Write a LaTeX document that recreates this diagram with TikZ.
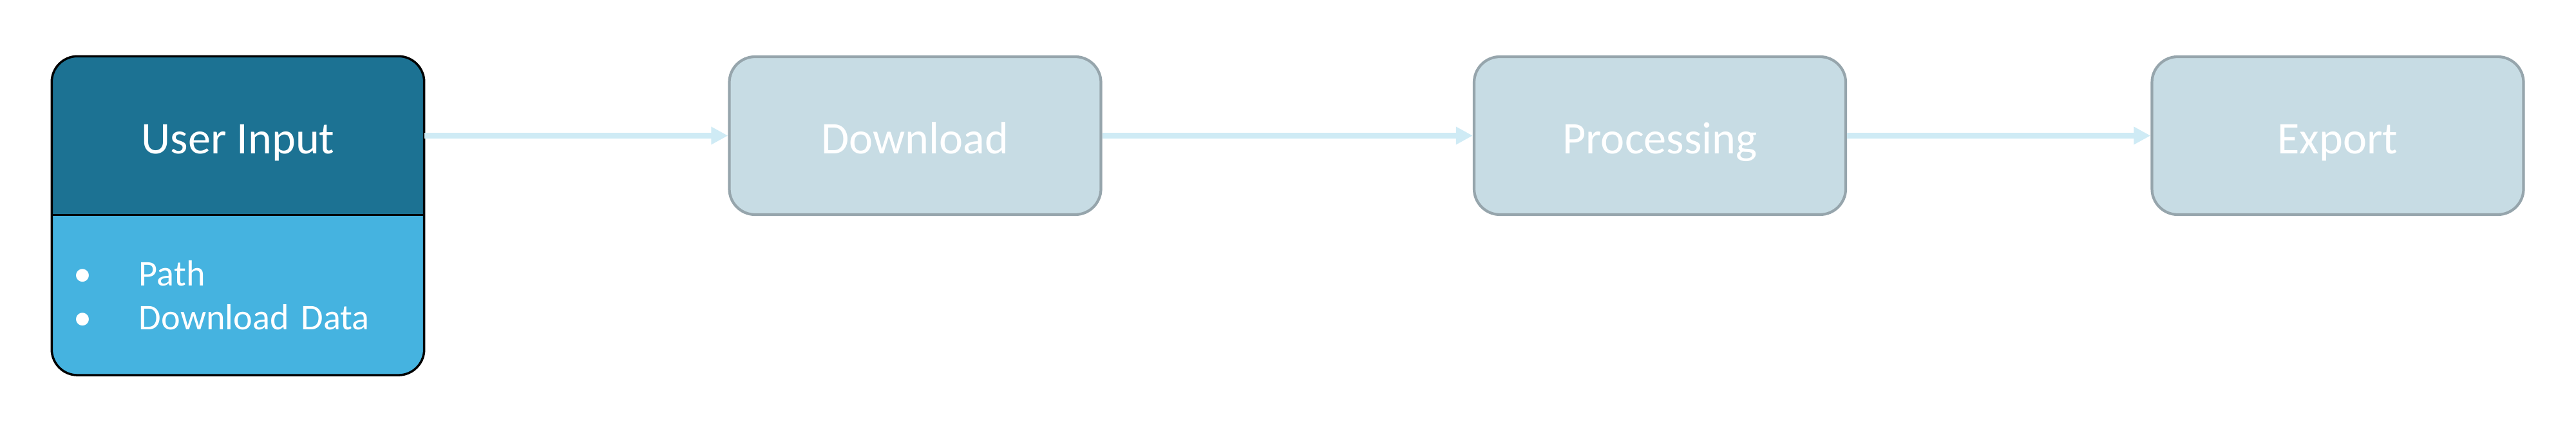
\documentclass[tikz,border=0pt]{standalone}
\usepackage{fontspec}
\setmainfont{Carlito}
\usepackage{tikz}
\usetikzlibrary{arrows.meta, backgrounds}
\definecolor{headblue}{RGB}{28,114,147}
\definecolor{listblue}{RGB}{69,179,224}
\definecolor{stagefill}{RGB}{199,220,228}
\definecolor{stageline}{RGB}{150,165,172}
\definecolor{flowblue}{RGB}{207,235,245}

\begin{document}
\begin{tikzpicture}[
  stage/.style={draw=stageline, line width=1.2pt, fill=stagefill, rounded corners=0.4cm,
    minimum width=5.77cm, minimum height=2.45cm, text height=0.7cm, text depth=0.14cm,
    text=white, font=\fontsize{20}{24}\selectfont},
  flow/.style={draw=flowblue, line width=2.6pt, -{Triangle[length=0.26cm,width=0.26cm]}}]
\useasboundingbox (0,0) rectangle (40,6.61);
% first stage, header and list
\node[minimum width=5.77cm, minimum height=2.45cm, text height=0.7cm, text depth=0.14cm,
  text=white, font=\fontsize{20}{24}\selectfont]
  (input) at (3.695,4.505) {User Input};
\node[minimum width=5.77cm, minimum height=2.47cm, anchor=north, inner xsep=0.33cm, text width=5.11cm,
  align=left, text=white, font=\fontsize{16}{19.3}\selectfont]
  (inputlist) at (input.south) {\makebox[1.02cm][l]{\textbullet}Path\\\makebox[1.02cm][l]{\textbullet}Download Data};
\begin{scope}[on background layer]
\clip[rounded corners=0.4cm] (input.north west) rectangle (inputlist.south east);
\fill[listblue] (input.north west) rectangle (inputlist.south east);
\fill[headblue] (input.north west) rectangle (input.south east);
\end{scope}
\draw[line width=1pt] (input.south west) -- (input.south east);
\draw[line width=1pt, rounded corners=0.4cm] (input.north west) rectangle (inputlist.south east);
% later stages
\node[stage] (download) at (14.21,4.505) {Download};
\node[stage] (processing) at (25.775,4.505) {Processing};
\node[stage] (export) at (36.30,4.505) {Export};
\draw[flow] (input) -- (download);
\draw[flow] (download) -- (processing);
\draw[flow] (processing) -- (export);
\end{tikzpicture}
\end{document}
